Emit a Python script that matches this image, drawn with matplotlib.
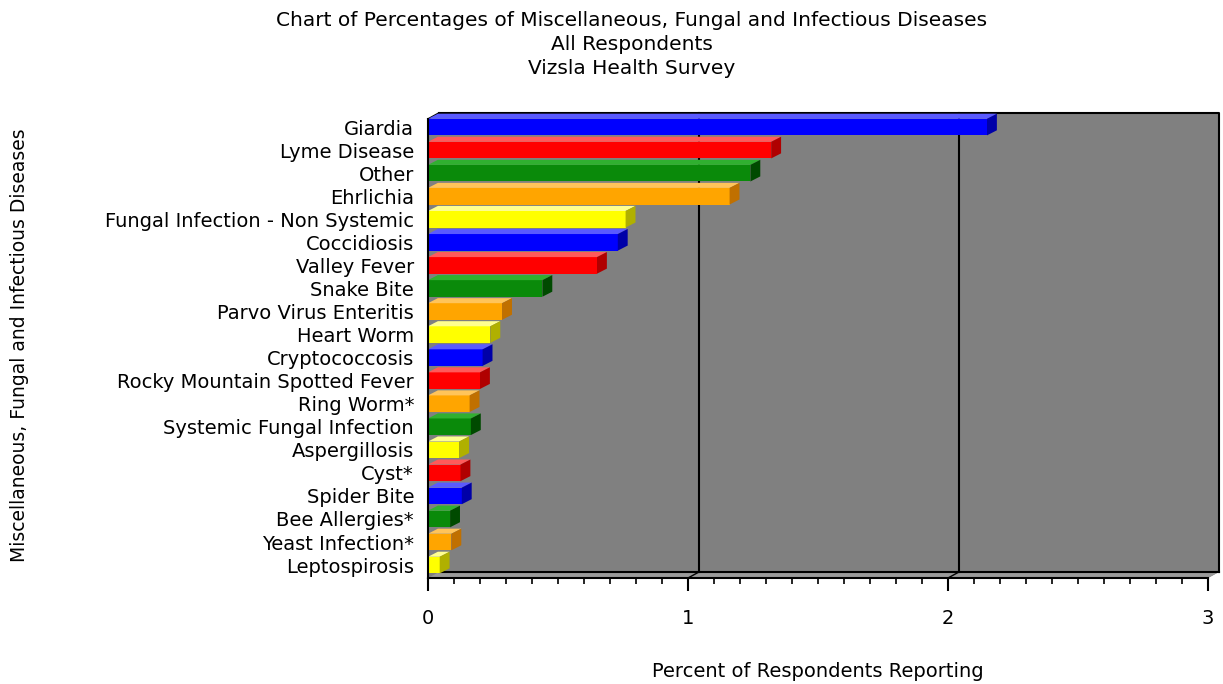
import matplotlib
matplotlib.use("Agg")
import matplotlib.pyplot as plt
from matplotlib.patches import Polygon, Rectangle
from matplotlib.ticker import MultipleLocator
import numpy as np

# data
diseases = ["Giardia", "Lyme Disease", "Other", "Ehrlichia",
            "Fungal Infection - Non Systemic", "Coccidiosis", "Valley Fever",
            "Snake Bite", "Parvo Virus Enteritis", "Heart Worm",
            "Cryptococcosis", "Rocky Mountain Spotted Fever", "Ring Worm*",
            "Systemic Fungal Infection", "Aspergillosis", "Cyst*",
            "Spider Bite", "Bee Allergies*", "Yeast Infection*", "Leptospirosis"]
percents = [2.15, 1.32, 1.24, 1.16, 0.76, 0.73, 0.65, 0.44, 0.285, 0.24,
            0.21, 0.20, 0.16, 0.165, 0.12, 0.125, 0.13, 0.085, 0.09, 0.045]
# colour of each bar (b=blue, r=red, g=green, o=orange, y=yellow)
bar_colours = ["b", "r", "g", "o", "y", "b", "r", "g", "o", "y",
               "b", "r", "o", "g", "y", "r", "b", "g", "o", "y"]

front_cols = {"b": "#0000ff", "r": "#ff0000", "g": "#0a8a0a", "o": "#ffa500", "y": "#ffff00"}
top_cols = {"b": "#5a5aff", "r": "#ff5a5a", "g": "#30b030", "o": "#ffc45a", "y": "#ffff90"}
side_cols = {"b": "#0000a8", "r": "#b00000", "g": "#004a00", "o": "#c07000", "y": "#b0b000"}

fig = plt.figure(figsize=(12.23, 6.84), dpi=100)
ax = fig.add_axes([428 / 1223, 106 / 684, 780 / 1223, 459 / 684])

n = len(diseases)
y = np.arange(n)
ytop, ybot = -0.35, n - 1 + 0.56
xmax = 3
ax.set_xlim(0, xmax)
ax.set_ylim(ybot, ytop)

# depth of the fake 3d box (in data units)
dx, dy = 0.042, 0.26
# depth of the bars
bdx, bdy = 0.038, 0.22
h = 0.72

# grey walls
wall = Polygon([(0, ybot), (0, ytop), (dx, ytop - dy), (xmax + dx, ytop - dy),
                (xmax + dx, ybot - dy), (xmax, ybot)],
               closed=True, facecolor="#808080", edgecolor="none",
               clip_on=False, zorder=0)
ax.add_patch(wall)
floor = Polygon([(0, ybot), (dx, ybot - dy), (xmax + dx, ybot - dy), (xmax, ybot)],
                closed=True, facecolor="#9a9a9a", edgecolor="none",
                clip_on=False, zorder=0.5)
ax.add_patch(floor)
# back wall outline
ax.plot([dx, xmax + dx, xmax + dx], [ytop - dy, ytop - dy, ybot - dy],
        color="black", lw=1.5, clip_on=False, zorder=1)
ax.plot([0, dx], [ytop, ytop - dy], color="black", lw=1.2, clip_on=False, zorder=1)
ax.plot([dx, xmax + dx], [ybot - dy, ybot - dy], color="black", lw=1.5,
        clip_on=False, zorder=1)
# gridlines on back wall
for k in [1, 2]:
    ax.plot([k + dx, k + dx], [ytop - dy, ybot - dy], color="black", lw=1.5,
            clip_on=False, zorder=1)
    ax.plot([k, k + dx], [ybot, ybot - dy], color="black", lw=1.0,
            clip_on=False, zorder=1)

# bars, drawn from the bottom up so the upper ones overlap correctly
for i in range(n - 1, -1, -1):
    v = percents[i]
    c = bar_colours[i]
    y0 = y[i] - h / 2
    y1 = y[i] + h / 2
    ax.add_patch(Rectangle((0, y0), v, h, facecolor=front_cols[c],
                           edgecolor="none", zorder=3))
    ax.add_patch(Polygon([(0, y0), (v, y0), (v + bdx, y0 - bdy), (bdx, y0 - bdy)],
                         closed=True, facecolor=top_cols[c], edgecolor="none",
                         zorder=3, clip_on=False))
    ax.add_patch(Polygon([(v, y0), (v, y1), (v + bdx, y1 - bdy), (v + bdx, y0 - bdy)],
                         closed=True, facecolor=side_cols[c], edgecolor="none",
                         zorder=3, clip_on=False))

ax.set_facecolor("none")
for s in ["top", "right"]:
    ax.spines[s].set_visible(False)
ax.spines["left"].set_linewidth(1.5)
ax.spines["bottom"].set_linewidth(1.5)
ax.spines["left"].set_zorder(4)

ax.set_yticks(y)
ax.set_yticklabels(diseases)
ax.tick_params(axis="y", length=0, pad=10, labelsize=14)
ax.xaxis.set_major_locator(MultipleLocator(1))
ax.xaxis.set_minor_locator(MultipleLocator(0.1))
ax.tick_params(axis="x", which="major", length=9, width=1.5, pad=13, labelsize=14)
ax.tick_params(axis="x", which="minor", length=4.5, width=1.2)

ax.set_xlabel("Percent of Respondents Reporting", fontsize=14, labelpad=25)
fig.text(20 / 1223, 1 - 345 / 684, "Miscellaneous, Fungal and Infectious Diseases",
         rotation=90, ha="center", va="center", fontsize=13.5)

fig.text(632 / 1223, 1 - 11 / 684,
         "Chart of Percentages of Miscellaneous, Fungal and Infectious Diseases\n"
         "All Respondents\nVizsla Health Survey",
         ha="center", va="top", fontsize=14.5, linespacing=1.35)

fig.savefig("out.png", dpi=100)
